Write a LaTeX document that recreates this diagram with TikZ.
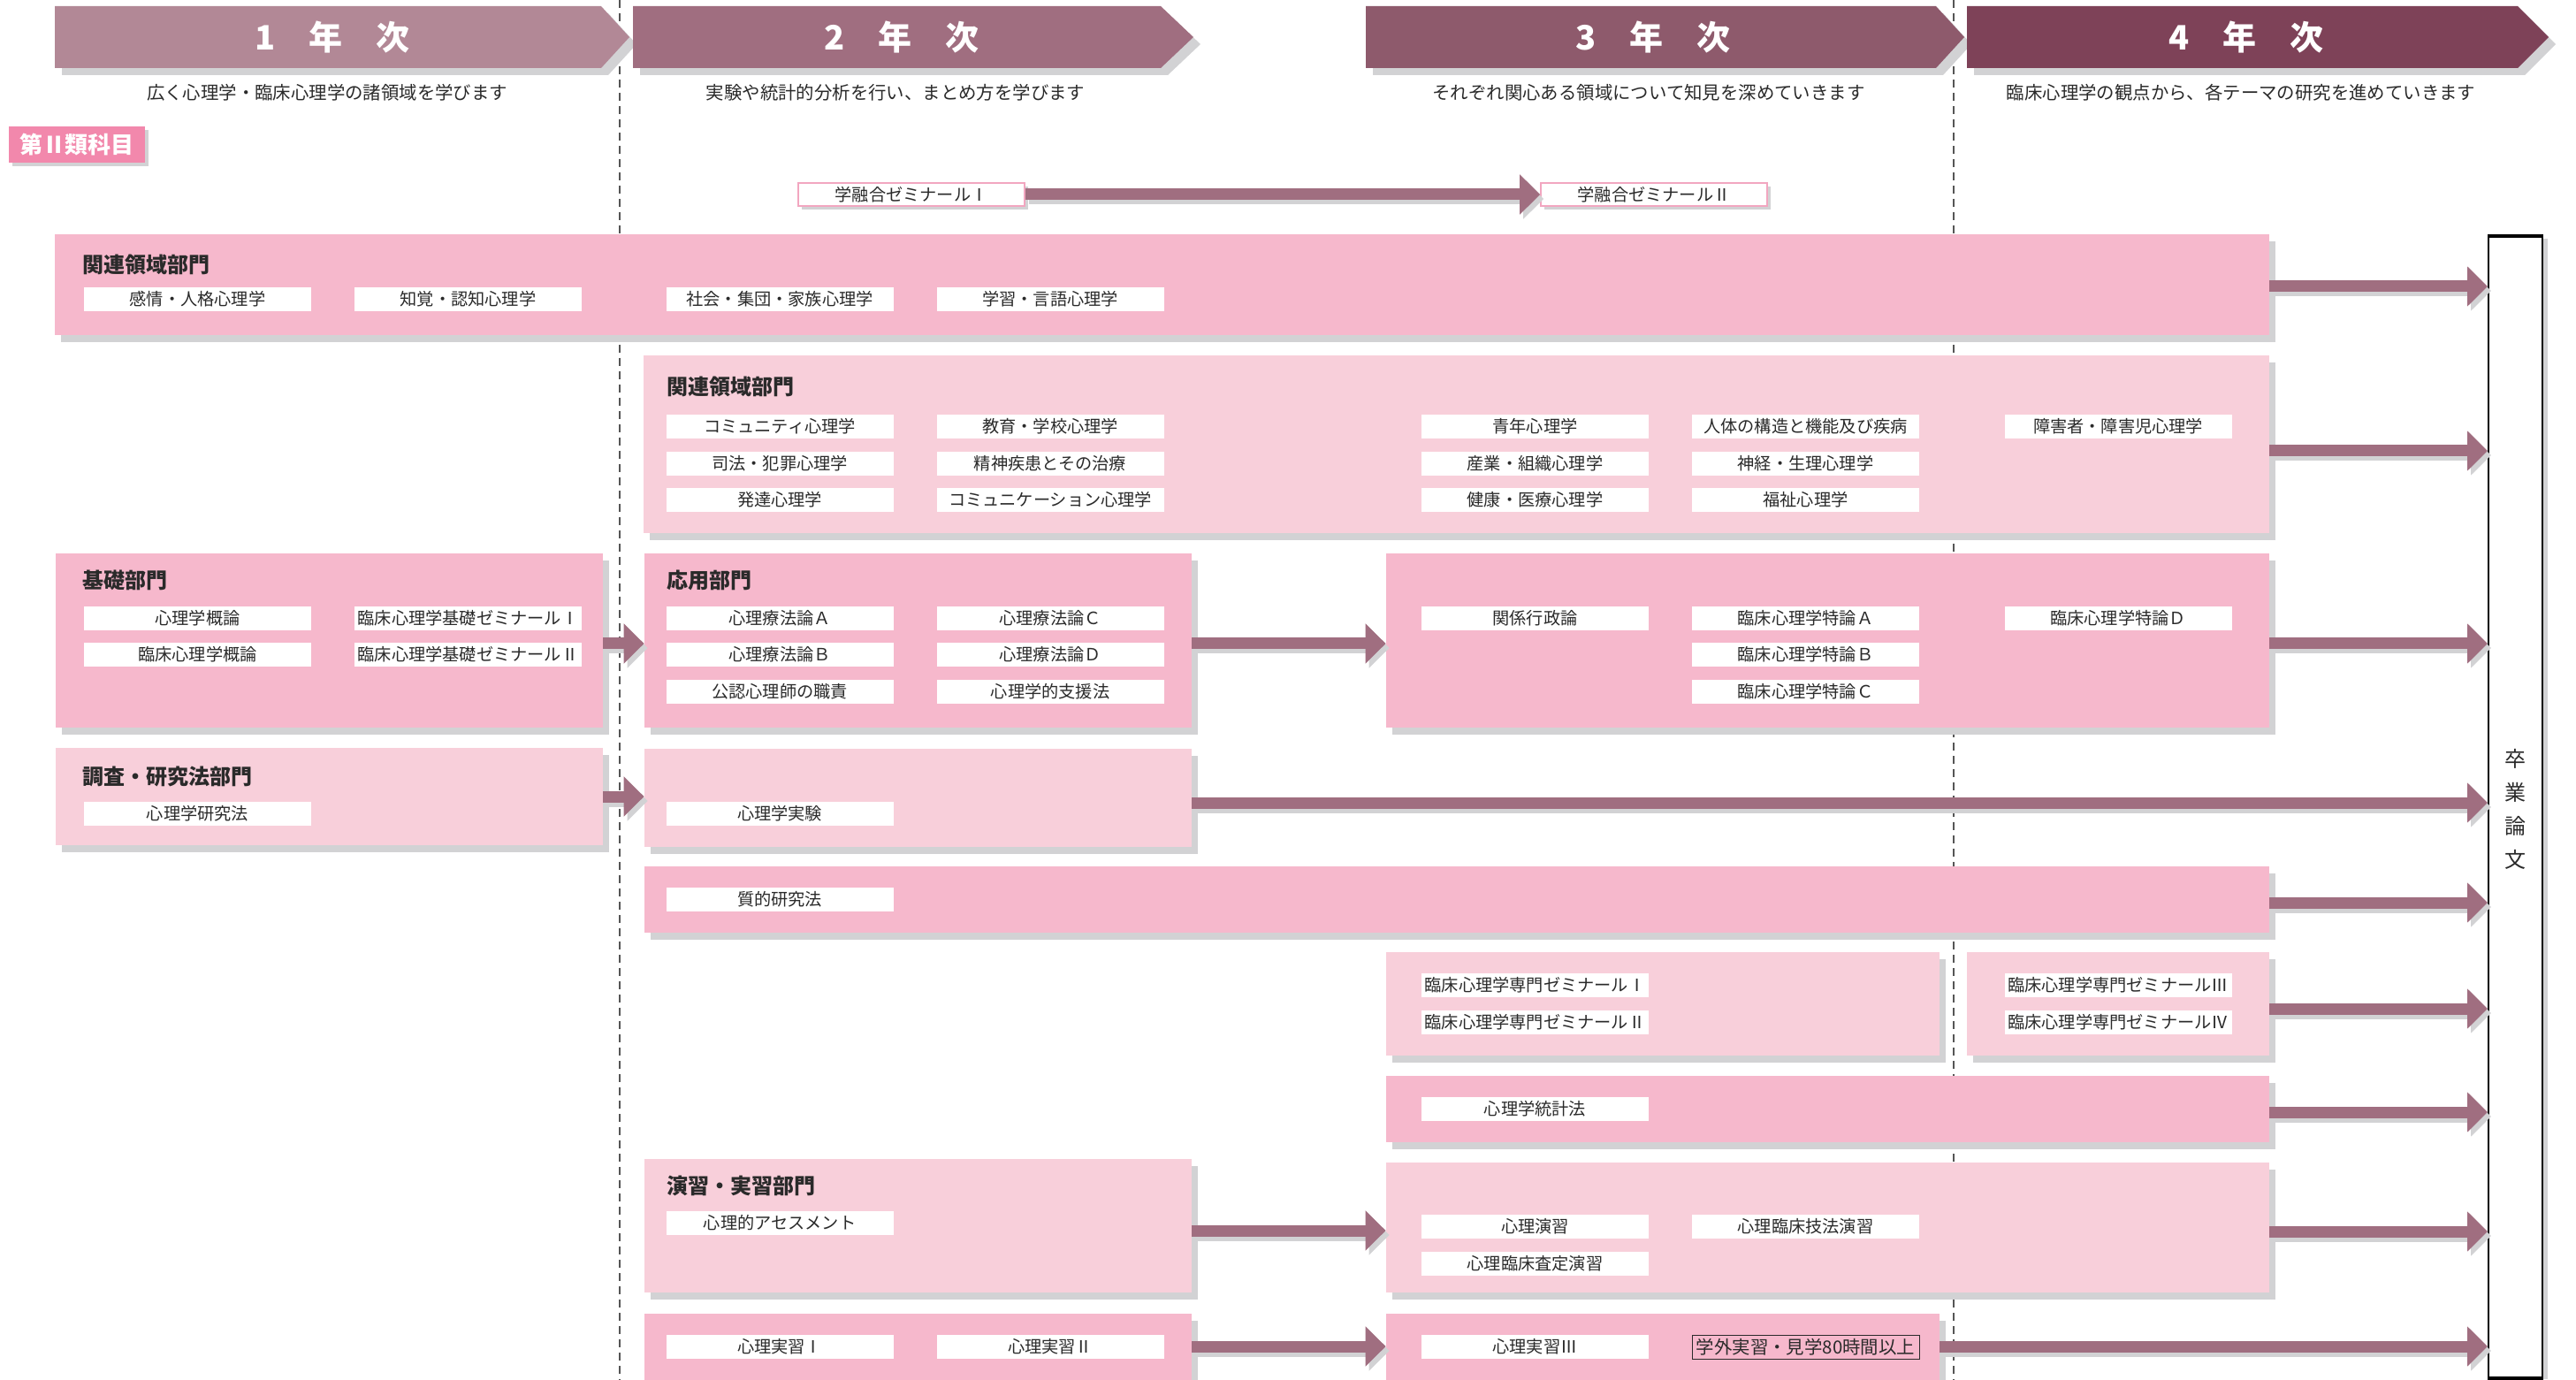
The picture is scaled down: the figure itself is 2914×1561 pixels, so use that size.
\documentclass[tikz,border=0pt]{standalone}
\usepackage{fontspec}
\setmainfont{Noto Sans CJK JP}
\usetikzlibrary{arrows.meta,fit,shadows}
\definecolor{hA}{HTML}{B28896}
\definecolor{hB}{HTML}{A06E80}
\definecolor{hC}{HTML}{8E5A6C}
\definecolor{hD}{HTML}{7E4258}
\definecolor{arrc}{HTML}{A06E80}
\definecolor{pinkD}{HTML}{F6B8CC}
\definecolor{pinkL}{HTML}{F8CFDA}
\definecolor{shd}{HTML}{D2D2D4}
\definecolor{tagc}{HTML}{F288AC}
\definecolor{semb}{HTML}{F2A6C0}
\definecolor{txt}{HTML}{2A2A2A}
\definecolor{dashc}{HTML}{555555}
\tikzset{
 area/.style={inner sep=0pt, draw=none, drop shadow={shadow xshift=3.5pt, shadow yshift=-4pt, fill=shd, opacity=1}},
 dk/.style={area, fill=pinkD},
 lt/.style={area, fill=pinkL},
 subj/.style={fill=white, inner sep=0pt, minimum width=128.5pt, minimum height=13.5pt, font=\fontsize{9.6pt}{10pt}\selectfont, text=txt},
 subjb/.style={subj, fill=pinkD, draw=txt, line width=0.5pt, font=\fontsize{10.2pt}{11pt}\selectfont},
 sem/.style={subj, draw=semb, line width=0.8pt, minimum width=128pt, minimum height=13pt, drop shadow={shadow xshift=2pt, shadow yshift=-2pt, fill=shd, opacity=1}},
 grp/.style={anchor=west, inner sep=0pt, font=\fontsize{12pt}{12pt}\selectfont\bfseries, text=txt},
 desc/.style={inner sep=0pt, font=\fontsize{10.2pt}{11pt}\selectfont, text=txt},
 hdtext/.style={inner sep=0pt, font=\fontsize{19pt}{19pt}\selectfont\bfseries, text=white},
 dashline/.style={draw=dashc, line width=0.7pt, dash pattern=on 4.5pt off 3pt},
 arr/.style={draw=arrc, line width=6.5pt, -{Triangle[width=22pt,length=11.5pt]}},
 arrsh/.style={draw=shd, line width=6.5pt, -{Triangle[width=22pt,length=11.5pt]}, transform canvas={shift={(2pt,-2.5pt)}}},
}
\newcommand\barrow[2]{\draw[arrsh] #1 -- #2; \draw[arr] #1 -- #2;}
\newcommand\hdr[4]{%
 \fill[shd] ({#1+8},15) -- ({#2+8},15) -- ({#3+8},50) -- ({#2+8},85) -- ({#1+8},85) -- cycle;
 \fill[#4] (#1,7) -- (#2,7) -- (#3,42) -- (#2,77) -- (#1,77) -- cycle;}
\begin{document}
\begin{tikzpicture}[x=0.5pt,y=-0.5pt]
\useasboundingbox (0,0) rectangle (2914,1561);
\clip (0,0) rectangle (2914,1561);
\fill[white] (0,0) rectangle (2914,1561);
% dashed year separators
\draw[dashline] (701,0) -- (701,1561);
\draw[dashline] (2210,0) -- (2210,1561);
% headers
\hdr{62}{680}{712}{hA}
\hdr{716}{1313}{1350}{hB}
\hdr{1545}{2190}{2222}{hC}
\hdr{2225}{2848}{2883}{hD}
\node[hdtext] (h1) at (376,42) {1　年　次};
\node[hdtext] (h2) at (1020,42) {2　年　次};
\node[hdtext] (h3) at (1870,42) {3　年　次};
\node[hdtext] (h4) at (2541,42) {4　年　次};
\node[desc] (d1) at (370,105) {広く心理学・臨床心理学の諸領域を学びます};
\node[desc] (d2) at (1013,105) {実験や統計的分析を行い、まとめ方を学びます};
\node[desc] (d3) at (1865,105) {それぞれ関心ある領域について知見を深めていきます};
\node[desc] (d4) at (2535,105) {臨床心理学の観点から、各テーマの研究を進めていきます};
% tag
\node[fit={(10,143)(164,184)}, inner sep=0pt, fill=tagc, drop shadow={shadow xshift=2pt, shadow yshift=-2pt, fill=shd, opacity=1}] (tag) {};
\node[inner sep=0pt, text=white, font=\fontsize{13pt}{13pt}\selectfont\bfseries] (tagtext) at (tag.center) {第Ⅱ類科目};
% seminars
\node[sem] (semI) at (1031,220) {学融合ゼミナールⅠ};
\node[sem] (semII) at (1871,220) {学融合ゼミナールⅡ};
% group boxes
\node[dk, fit={(62,265)(2567,379)}] (relA) {};
\node[lt, fit={(728,402)(2567,603)}] (relB) {};
\node[dk, fit={(63,626)(682,823)}] (kiso) {};
\node[dk, fit={(729,626)(1348,823)}] (ouyo) {};
\node[dk, fit={(1568,626)(2567,823)}] (ouyo3) {};
\node[lt, fit={(63,846)(682,956)}] (chosa) {};
\node[lt, fit={(729,847)(1348,958)}] (jikken) {};
\node[dk, fit={(729,980)(2567,1055)}] (shitsu) {};
\node[lt, fit={(1568,1077)(2194,1194)}] (senm3) {};
\node[lt, fit={(2225,1077)(2567,1194)}] (senm4) {};
\node[dk, fit={(1568,1217)(2567,1292)}] (toukei) {};
\node[lt, fit={(729,1311)(1348,1462)}] (ensh2) {};
\node[lt, fit={(1568,1315)(2567,1462)}] (ensh3) {};
\node[dk, fit={(729,1486)(1348,1600)}] (jish2) {};
\node[dk, fit={(1568,1486)(2194,1600)}] (jish3) {};
% group labels
\node[grp] (lA) at (93,299) {関連領域部門};
\node[grp] (lB) at (754,437) {関連領域部門};
\node[grp] (lC) at (93,656) {基礎部門};
\node[grp] (lD) at (754,656) {応用部門};
\node[grp] (lE) at (93,878) {調査・研究法部門};
\node[grp] (lF) at (754,1341) {演習・実習部門};
% row A subjects
\node[subj] (a1) at (223.5,338.5) {感情・人格心理学};
\node[subj] (a2) at (529.5,338.5) {知覚・認知心理学};
\node[subj] (a3) at (882,338.5) {社会・集団・家族心理学};
\node[subj] (a4) at (1188,338.5) {学習・言語心理学};
% row B subjects
\node[subj] (b1) at (882,482.5) {コミュニティ心理学};
\node[subj] (b2) at (882,524.5) {司法・犯罪心理学};
\node[subj] (b3) at (882,565.5) {発達心理学};
\node[subj] (b4) at (1188,482.5) {教育・学校心理学};
\node[subj] (b5) at (1188,524.5) {精神疾患とその治療};
\node[subj] (b6) at (1188,565.5) {コミュニケーション心理学};
\node[subj] (b7) at (1736.5,482.5) {青年心理学};
\node[subj] (b8) at (1736.5,524.5) {産業・組織心理学};
\node[subj] (b9) at (1736.5,565.5) {健康・医療心理学};
\node[subj] (b10) at (2042.5,482.5) {人体の構造と機能及び疾病};
\node[subj] (b11) at (2042.5,524.5) {神経・生理心理学};
\node[subj] (b12) at (2042.5,565.5) {福祉心理学};
\node[subj] (b13) at (2396,482.5) {障害者・障害児心理学};
% row C subjects
\node[subj] (c1) at (223.5,699.5) {心理学概論};
\node[subj] (c2) at (223.5,740.5) {臨床心理学概論};
\node[subj] (c3) at (529.5,699.5) {臨床心理学基礎ゼミナールⅠ};
\node[subj] (c4) at (529.5,740.5) {臨床心理学基礎ゼミナールⅡ};
\node[subj] (c5) at (882,699.5) {心理療法論Ａ};
\node[subj] (c6) at (882,740.5) {心理療法論Ｂ};
\node[subj] (c7) at (882,782.5) {公認心理師の職責};
\node[subj] (c8) at (1188,699.5) {心理療法論Ｃ};
\node[subj] (c9) at (1188,740.5) {心理療法論Ｄ};
\node[subj] (c10) at (1188,782.5) {心理学的支援法};
\node[subj] (c11) at (1736.5,699.5) {関係行政論};
\node[subj] (c12) at (2042.5,699.5) {臨床心理学特論Ａ};
\node[subj] (c13) at (2042.5,740.5) {臨床心理学特論Ｂ};
\node[subj] (c14) at (2042.5,782.5) {臨床心理学特論Ｃ};
\node[subj] (c15) at (2396,699.5) {臨床心理学特論Ｄ};
% row D, E
\node[subj] (d1s) at (223.5,920.5) {心理学研究法};
\node[subj] (d2s) at (882,920.5) {心理学実験};
\node[subj] (e1) at (882,1017.5) {質的研究法};
% row F, G
\node[subj] (f1) at (1736.5,1114) {臨床心理学専門ゼミナールⅠ};
\node[subj] (f2) at (1736.5,1156.5) {臨床心理学専門ゼミナールⅡ};
\node[subj] (f3) at (2396,1114) {臨床心理学専門ゼミナールⅢ};
\node[subj] (f4) at (2396,1156.5) {臨床心理学専門ゼミナールⅣ};
\node[subj] (g1) at (1736.5,1254.5) {心理学統計法};
% row H
\node[subj] (h1s) at (882,1383.5) {心理的アセスメント};
\node[subj] (h2s) at (1736.5,1387.5) {心理演習};
\node[subj] (h3s) at (2042.5,1387.5) {心理臨床技法演習};
\node[subj] (h4s) at (1736.5,1429.5) {心理臨床査定演習};
% row I
\node[subj] (i1) at (882,1523.5) {心理実習Ⅰ};
\node[subj] (i2) at (1188,1523.5) {心理実習Ⅱ};
\node[subj] (i3) at (1736.5,1523.5) {心理実習Ⅲ};
\node[subjb] (i4) at (2042.5,1523.5) {学外実習・見学80時間以上};
% thesis
\node[fit={(2815,268)(2876,1558)}, inner sep=0pt, fill=white, draw=black, line width=1pt, drop shadow={shadow xshift=3pt, shadow yshift=-1pt, fill=shd, opacity=1}] (thesis) {};
\draw[line width=1.6pt] (thesis.north west) -- (thesis.north east);
\draw[line width=1.6pt] (thesis.south west) -- (thesis.south east);
\node[inner sep=0pt, align=center, text=txt, font=\fontsize{12pt}{19pt}\selectfont] (thtext) at (2845,915) {卒\\業\\論\\文};
% arrows
\barrow{(semI.east)}{(semII.west)}
\barrow{(relA.east |- 0,324)}{(thesis.west |- 0,324)}
\barrow{(relB.east |- 0,510)}{(thesis.west |- 0,510)}
\barrow{(kiso.east |- 0,728)}{(ouyo.west |- 0,728)}
\barrow{(ouyo.east |- 0,728)}{(ouyo3.west |- 0,728)}
\barrow{(ouyo3.east |- 0,728)}{(thesis.west |- 0,728)}
\barrow{(chosa.east |- 0,901)}{(jikken.west |- 0,901)}
\barrow{(jikken.east |- 0,908)}{(thesis.west |- 0,908)}
\barrow{(shitsu.east |- 0,1021)}{(thesis.west |- 0,1021)}
\barrow{(senm4.east |- 0,1141)}{(thesis.west |- 0,1141)}
\barrow{(toukei.east |- 0,1258)}{(thesis.west |- 0,1258)}
\barrow{(ensh2.east |- 0,1392)}{(ensh3.west |- 0,1392)}
\barrow{(ensh3.east |- 0,1393)}{(thesis.west |- 0,1393)}
\barrow{(jish2.east |- 0,1523)}{(jish3.west |- 0,1523)}
\barrow{(jish3.east |- 0,1523)}{(thesis.west |- 0,1523)}
\end{tikzpicture}
\end{document}
